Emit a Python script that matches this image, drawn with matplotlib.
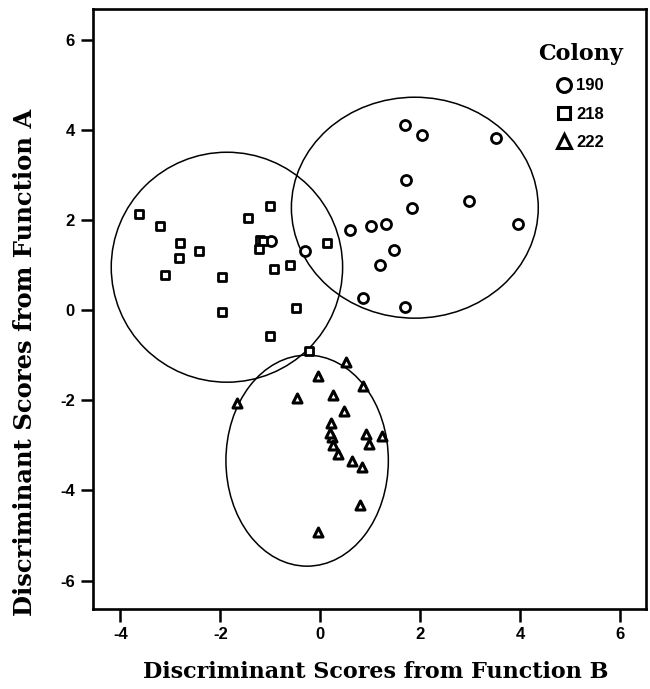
import matplotlib
matplotlib.use('Agg')
import matplotlib.pyplot as plt
from matplotlib.patches import Ellipse
from matplotlib.lines import Line2D

plt.rcParams['axes.unicode_minus'] = False

# discriminant scores (B = x, A = y)
x_190 = [1.69, 2.04, 3.52, 1.71, 2.97, 1.84, 3.96, 0.59, 1.01, 1.31, 1.47, 1.19, 0.85, 1.69, -0.98, -0.31]
y_190 = [4.10, 3.89, 3.82, 2.88, 2.41, 2.27, 1.90, 1.77, 1.86, 1.90, 1.33, 1.00, 0.26, 0.07, 1.53, 1.31]

x_218 = [-3.63, -3.21, -2.80, -2.83, -2.43, -3.11, -1.96, -1.45, -1.00, -1.21, -1.14, -1.22, -0.92, -0.61, 0.13, -1.97, -0.48, -1.01, -0.22]
y_218 = [2.12, 1.87, 1.49, 1.16, 1.31, 0.77, 0.73, 2.04, 2.31, 1.55, 1.53, 1.35, 0.91, 1.00, 1.48, -0.04, 0.04, -0.57, -0.90]

x_222 = [0.51, -0.04, 0.86, -0.46, 0.26, -1.66, 0.47, 0.21, 0.91, 1.24, 0.23, 0.26, 0.98, 0.36, 0.64, 0.84, 0.79, -0.04, 0.19]
y_222 = [-1.15, -1.46, -1.69, -1.96, -1.89, -2.06, -2.24, -2.51, -2.75, -2.80, -2.81, -3.00, -2.98, -3.20, -3.35, -3.48, -4.33, -4.92, -2.72]

# group ellipses: centre x, centre y, width, height
ell_cx = [1.89, -1.87, -0.265]
ell_cy = [2.27, 0.95, -3.34]
ell_w = [4.94, 4.63, 3.25]
ell_h = [4.90, 5.10, 4.68]

colonies = ['190', '218', '222']
ticks = [-6, -4, -2, 0, 2, 4, 6]

fig = plt.figure(figsize=(6.5, 6.89), dpi=100)
ax = fig.add_axes([93/650, 1 - 609/689, (645.7 - 93)/650, (609 - 9.3)/689])

ax.scatter(x_190, y_190, marker='o', s=52, facecolor='white', edgecolor='black', linewidths=2.0, zorder=3)
ax.scatter(x_218, y_218, marker='s', s=40, facecolor='white', edgecolor='black', linewidths=2.0, zorder=3)
ax.scatter(x_222, y_222, marker='^', s=42, facecolor='white', edgecolor='black', linewidths=2.2, zorder=3)

for cx, cy, w, h in zip(ell_cx, ell_cy, ell_w, ell_h):
    ax.add_patch(Ellipse((cx, cy), w, h, fill=False, edgecolor='black', linewidth=1.1, zorder=2))

ax.set_xlim(-4.55, 6.51)
ax.set_ylim(-6.63, 6.67)
ax.set_xticks(ticks[1:])
ax.set_yticks(ticks)

for side in ['left', 'bottom', 'right', 'top']:
    ax.spines[side].set_linewidth(1.9)
ax.tick_params(direction='out', length=9, width=1.8, top=False, right=False, pad=4)
for lab in ax.get_xticklabels() + ax.get_yticklabels():
    lab.set_fontfamily('Liberation Sans')
    lab.set_fontweight('heavy')
    lab.set_fontsize(12)

fig.text(376/650, 1 - 672/689, 'Discriminant Scores from Function B',
         ha='center', va='center', family='DejaVu Serif', weight='bold', fontsize=16)
fig.text(25/650, 1 - 362/689, 'Discriminant Scores from Function A', rotation=90,
         ha='center', va='center', family='DejaVu Serif', weight='bold', fontsize=17.5)

# legend
handles = [Line2D([], [], marker=m, linestyle='none', markersize=ms, markerfacecolor='white',
                  markeredgecolor='black', markeredgewidth=2.2)
           for m, ms in zip(['o', 's', '^'], [10, 8.5, 10])]
leg = ax.legend(handles, colonies, title='Colony', loc='upper left',
                bbox_to_anchor=(523/650, 1 - 28/689), bbox_transform=fig.transFigure,
                frameon=False, handlelength=0.8, handletextpad=0.35, labelspacing=0.8,
                prop={'family': 'Liberation Sans', 'weight': 'bold', 'size': 12})
leg.get_title().set_fontfamily('DejaVu Serif')
leg.get_title().set_fontweight('bold')
leg.get_title().set_fontsize(16)

fig.savefig('out.png', dpi=100)
